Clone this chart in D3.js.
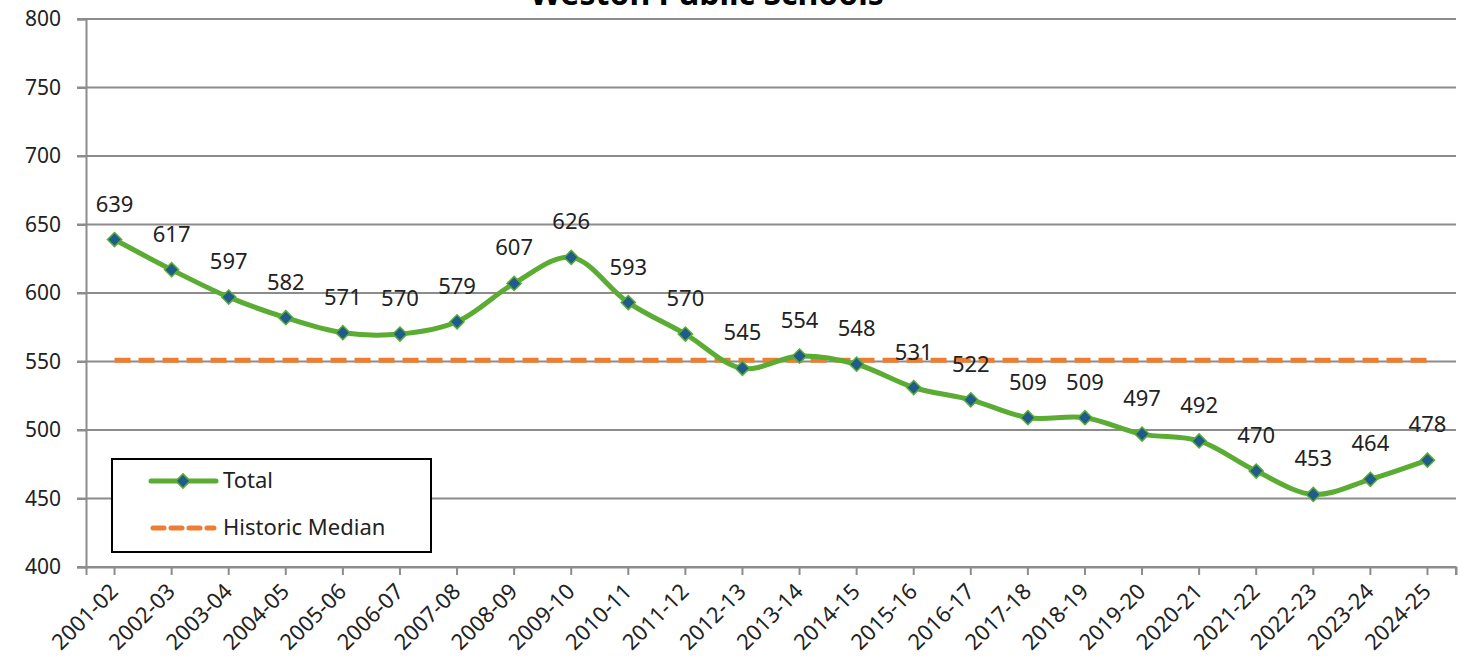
<!DOCTYPE html>
<html>
<head>
<meta charset="utf-8">
<script src="https://cdn.jsdelivr.net/npm/d3@7"></script>
<style>
  body { margin: 0; background: #fff; }
  svg { display: block; font-family: "Noto Sans", "Open Sans", sans-serif; }
</style>
</head>
<body>
<script>
var years = ["2001-02", "2002-03", "2003-04", "2004-05", "2005-06", "2006-07", "2007-08", "2008-09",
             "2009-10", "2010-11", "2011-12", "2012-13", "2013-14", "2014-15", "2015-16", "2016-17",
             "2017-18", "2018-19", "2019-20", "2020-21", "2021-22", "2022-23", "2023-24", "2024-25"];
var totals = [639, 617, 597, 582, 571, 570, 579, 607, 626, 593, 570, 545, 554, 548, 531, 522,
              509, 509, 497, 492, 470, 453, 464, 478];
var historicMedian = 551;
var yTicks = [400, 450, 500, 550, 600, 650, 700, 750, 800];
var chartTitle = "Weston Public Schools";

var screen = { width: 1465, height: 667 };
var margins = { left: 86, right: 9, top: 19, bottom: 100 };

var svg = d3.select("body").append("svg")
            .attr("width", screen.width)
            .attr("height", screen.height);

var xScale = d3.scaleBand()
               .domain(years)
               .range([margins.left, screen.width - margins.right]);

var yScale = d3.scaleLinear()
               .domain([400, 800])
               .range([screen.height - margins.bottom, margins.top]);

var cx = function(d, i) { return xScale(years[i]) + xScale.bandwidth() / 2; };

// title (cut at the top, as in the original)
svg.append("text")
   .attr("x", 707)
   .attr("y", 5)
   .attr("text-anchor", "middle")
   .attr("font-size", 32)
   .attr("font-weight", "bold")
   .attr("fill", "#000")
   .text(chartTitle);

// gridlines
svg.append("g")
   .attr("class", "grid")
   .selectAll("line")
   .data(yTicks)
   .enter()
   .append("line")
   .attr("x1", margins.left - 9)
   .attr("x2", screen.width - margins.right)
   .attr("y1", function(d) { return yScale(d); })
   .attr("y2", function(d) { return yScale(d); })
   .attr("stroke", "#8c8c8c")
   .attr("stroke-width", 2);

// y axis
var yAxis = d3.axisLeft(yScale).tickValues(yTicks).tickSize(9).tickPadding(16);
var yG = svg.append("g")
   .attr("transform", "translate(" + margins.left + ",0)")
   .call(yAxis);
yG.select(".domain").attr("stroke", "#8c8c8c").attr("stroke-width", 2);
yG.selectAll(".tick line").attr("stroke", "#8c8c8c").attr("stroke-width", 2);
yG.selectAll(".tick text").attr("font-size", 21).attr("fill", "#222")
  .attr("font-family", "Noto Sans, sans-serif");

// x axis (ticks at the category centres, plus one at the end)
var xAxis = d3.axisBottom(xScale).tickSizeOuter(0).tickSize(8).tickFormat("");
var xG = svg.append("g")
   .attr("transform", "translate(0," + yScale(400) + ")")
   .call(xAxis);
xG.select(".domain").attr("stroke", "#8c8c8c").attr("stroke-width", 2);
xG.selectAll(".tick line").attr("stroke", "#8c8c8c").attr("stroke-width", 2);
svg.append("line")
   .attr("x1", xScale.range()[1]).attr("x2", xScale.range()[1])
   .attr("y1", yScale(400)).attr("y2", yScale(400) + 8)
   .attr("stroke", "#8c8c8c").attr("stroke-width", 2);

svg.append("g")
   .attr("class", "xLabels")
   .selectAll("text")
   .data(years)
   .enter()
   .append("text")
   .attr("transform", function(d, i) {
     return "translate(" + (cx(d, i) - 6) + "," + (yScale(400) + 15) + ") rotate(-45)";
   })
   .attr("text-anchor", "end")
   .attr("dy", "0.7em")
   .attr("font-size", 22)
   .attr("fill", "#222")
   .text(function(d) { return d; });

// median line
svg.append("line")
   .attr("x1", cx(null, 0))
   .attr("x2", cx(null, years.length - 1))
   .attr("y1", yScale(historicMedian))
   .attr("y2", yScale(historicMedian))
   .attr("stroke", "#ed7d31")
   .attr("stroke-width", 5)
   .attr("stroke-dasharray", "16,8");

// total line
var line = d3.line()
             .x(cx)
             .y(function(d) { return yScale(d); })
             .curve(d3.curveCatmullRom.alpha(0.5));

svg.append("path")
   .datum(totals)
   .attr("d", line)
   .attr("fill", "none")
   .attr("stroke", "#5aac32")
   .attr("stroke-width", 5);

var diamond = d3.symbol().type(d3.symbolSquare).size(100);

svg.append("g")
   .selectAll("path")
   .data(totals)
   .enter()
   .append("path")
   .attr("d", diamond)
   .attr("transform", function(d, i) { return "translate(" + cx(d, i) + "," + yScale(d) + ") rotate(45)"; })
   .attr("fill", "#1f5c8b")
   .attr("stroke", "#5aac32")
   .attr("stroke-width", 1.5);

svg.append("g")
   .selectAll("text")
   .data(totals)
   .enter()
   .append("text")
   .attr("x", cx)
   .attr("y", function(d) { return yScale(d) - 28; })
   .attr("text-anchor", "middle")
   .attr("font-size", 22)
   .attr("fill", "#222")
   .text(function(d) { return d; });

// legend
var legend = svg.append("g").attr("class", "legend");
legend.append("rect")
      .attr("x", 112).attr("y", 459)
      .attr("width", 319).attr("height", 93)
      .attr("fill", "#fff")
      .attr("stroke", "#000")
      .attr("stroke-width", 2);
legend.append("line")
      .attr("x1", 151).attr("x2", 216).attr("y1", 481).attr("y2", 481)
      .attr("stroke", "#5aac32").attr("stroke-width", 5).attr("stroke-linecap", "round");
legend.append("path")
      .attr("d", diamond)
      .attr("transform", "translate(183,481) rotate(45)")
      .attr("fill", "#1f5c8b").attr("stroke", "#5aac32").attr("stroke-width", 1.5);
legend.append("text")
      .attr("x", 223).attr("y", 488)
      .attr("font-size", 22).attr("fill", "#222")
      .text("Total");
legend.append("line")
      .attr("x1", 153).attr("x2", 214).attr("y1", 528).attr("y2", 528)
      .attr("stroke", "#ed7d31").attr("stroke-width", 5)
      .attr("stroke-dasharray", "11,7").attr("stroke-linecap", "round");
legend.append("text")
      .attr("x", 223).attr("y", 535)
      .attr("font-size", 22).attr("fill", "#222")
      .text("Historic Median");
</script>
</body>
</html>
